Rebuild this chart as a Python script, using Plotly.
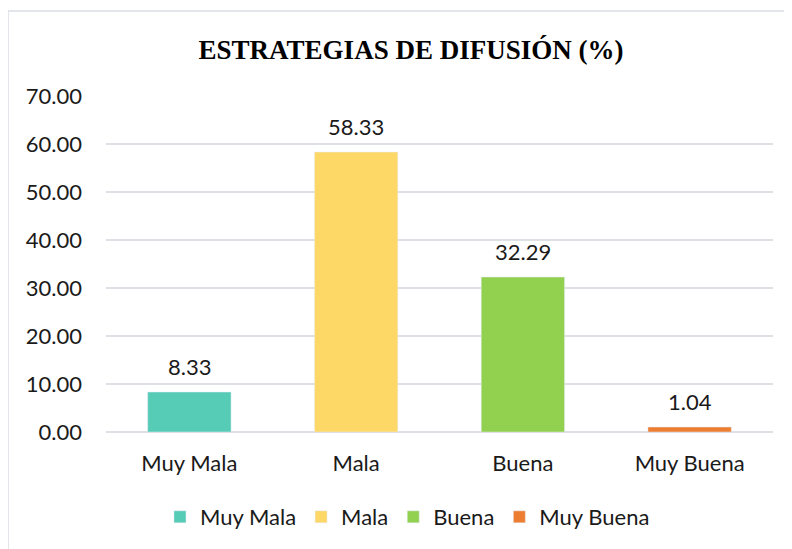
import plotly.graph_objects as go

categories = ["Muy Mala", "Mala", "Buena", "Muy Buena"]
values = [8.33, 58.33, 32.29, 1.04]
colors = ["#56CBB6", "#FDD866", "#92D050", "#ED7D31"]
y_ticks = [0, 10, 20, 30, 40, 50, 60, 70]
title = "ESTRATEGIAS DE DIFUSIÓN (%)"

FONT = "Lato, Open Sans, sans-serif"
TXT = "#1A1A1A"

W, H = 784, 541  # page body has an 8px margin

fig = go.Figure()
for cat, val, col in zip(categories, values, colors):
    fig.add_trace(go.Bar(
        x=[cat], y=[val], name=cat, marker_color=col, width=0.5,
    ))
    fig.add_annotation(x=cat, y=val, text=f"{val:.2f}", showarrow=False,
                       yanchor="middle", yshift=26,
                       font=dict(family=FONT, size=22, color=TXT))

fig.update_layout(
    width=W, height=H,
    margin=dict(l=98, r=19, t=88, b=117, autoexpand=False),
    paper_bgcolor="white", plot_bgcolor="white",
    barmode="overlay",
    title=dict(text=f"<b>{title}</b>", x=(411 - 8) / W, xanchor="center",
               y=1 - 42 / H, yanchor="middle",
               font=dict(family="Liberation Serif, Times New Roman, serif", size=27, color="black")),
    xaxis=dict(categoryorder="array", categoryarray=categories, showline=False,
               tickfont=dict(family=FONT, size=22, color=TXT), automargin=False,
               ticks="", ticklabelstandoff=16),
    yaxis=dict(range=[0, 70], tickvals=y_ticks, tickformat=".2f", automargin=False,
               gridcolor="#DDE1E6", gridwidth=2, zeroline=True, zerolinecolor="#DDE1E6", zerolinewidth=2,
               tickfont=dict(family=FONT, size=22, color=TXT),
               ticklabelstandoff=23),
    legend=dict(orientation="h", x=0.452, xanchor="center", y=-0.253, yanchor="middle",
                font=dict(family=FONT, size=22, color=TXT),
                itemwidth=30, traceorder="normal"),
    showlegend=True,
)
fig.add_shape(type="rect", xref="paper", yref="paper",
              x0=(0 - 98) / 667, x1=1.2, y0=-0.6, y1=(421) / 336,
              line=dict(color="#D9DEE4", width=1.5), fillcolor="rgba(0,0,0,0)", layer="below")

fig.write_html("out.html")
